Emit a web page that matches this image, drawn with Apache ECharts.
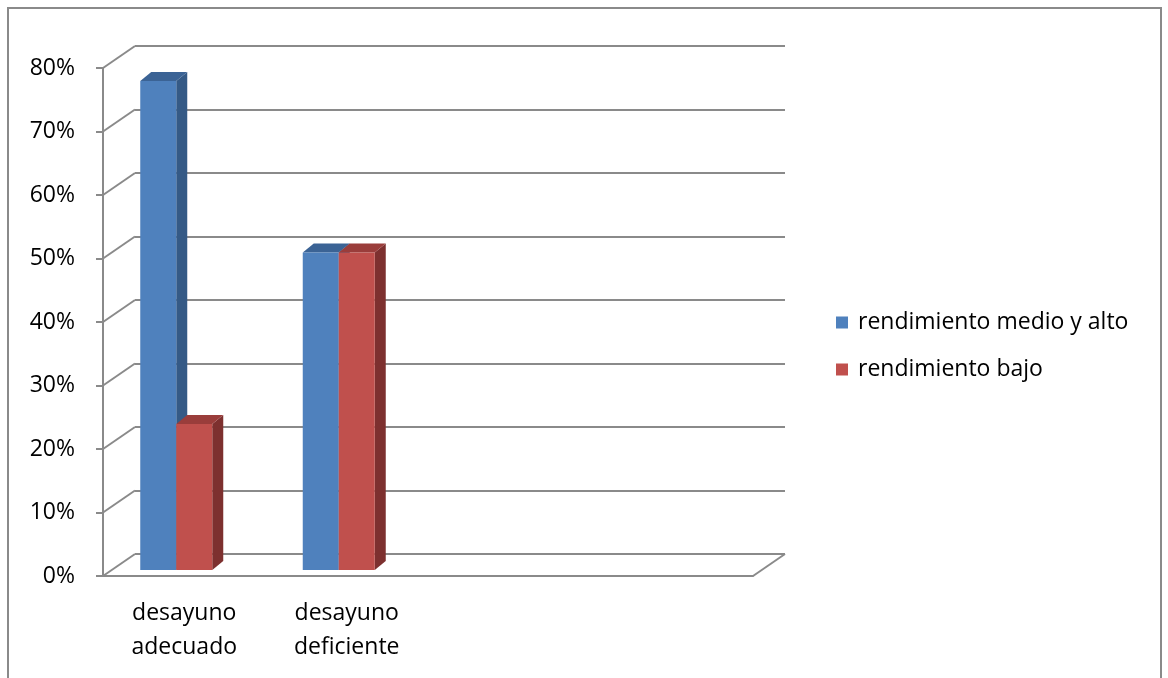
<!DOCTYPE html>
<html>
<head>
<meta charset="utf-8">
<title>desayuno / rendimiento</title>
<script src="https://cdn.jsdelivr.net/npm/echarts@6/dist/echarts.min.js"></script>
<style>
  html, body { margin: 0; padding: 0; background: #fff; }
  #chart { width: 1168px; height: 678px; }
</style>
</head>
<body>
<div id="chart"></div>
<script>
// data
const categories = ['desayuno\nadecuado', 'desayuno\ndeficiente', '', '']
const medioAlto = [0.77, 0.50]
const bajo = [0.23, 0.50]
const yTicks = [0, 0.1, 0.2, 0.3, 0.4, 0.5, 0.6, 0.7, 0.8]

const gray = '#8a8a8a'
const depth = [32, -22]     // back wall offset
const barDepth = [11, -9]   // depth of each bar
const barShift = [-8, -6]   // where the bar pair sits inside the box
const barW = 36

function barRender(slot, faces) {
  return function (params, api) {
    const cat = api.value(0)
    const top = api.coord([cat, api.value(1)])
    const base = api.coord([cat, 0])
    const x0 = top[0] + barShift[0] + (slot - 1) * barW
    const x1 = x0 + barW
    const yt = top[1] + barShift[1]
    const yb = base[1] + barShift[1]
    const dx = barDepth[0], dy = barDepth[1]
    return {
      type: 'group',
      children: [
        { type: 'polygon', shape: { points: [[x1, yt], [x1 + dx, yt + dy], [x1 + dx, yb + dy], [x1, yb]] }, style: { fill: faces[2] } },
        { type: 'polygon', shape: { points: [[x0, yt], [x1, yt], [x1 + dx, yt + dy], [x0 + dx, yt + dy]] }, style: { fill: faces[1] } },
        { type: 'rect', shape: { x: x0, y: yt, width: barW, height: yb - yt }, style: { fill: faces[0] } }
      ]
    }
  }
}

function wallRender(params, api) {
  const v = api.value(0)
  const p = api.coord([0, v])
  const band = api.size([1, 0])[0]
  const left = p[0] - band / 2
  const kids = [{
    type: 'line',
    shape: { x1: left, y1: p[1], x2: left + depth[0], y2: p[1] + depth[1] },
    style: { stroke: gray, lineWidth: 2 }
  }]
  if (v === 0) {
    const right = api.coord([categories.length - 1, 0])[0] + band / 2
    kids.push({
      type: 'line',
      shape: { x1: right, y1: p[1], x2: right + depth[0], y2: p[1] + depth[1] },
      style: { stroke: gray, lineWidth: 2 }
    })
  }
  return { type: 'group', children: kids }
}

const chart = echarts.init(document.getElementById('chart'))
chart.setOption({
  animation: false,
  textStyle: { fontFamily: '"Open Sans", Lato, sans-serif' },
  graphic: [{
    type: 'rect',
    shape: { x: 8, y: 8, width: 1153, height: 700 },
    style: { fill: 'none', stroke: gray, lineWidth: 2 },
    silent: true
  }],
  legend: {
    orient: 'vertical',
    left: 831,
    top: 306,
    icon: 'rect',
    itemWidth: 12,
    itemHeight: 12,
    itemGap: 24,
    textStyle: { color: '#000', fontSize: 23, padding: [0, 0, 0, 5] },
    data: ['rendimiento medio y alto', 'rendimiento bajo']
  },
  grid: [
    { left: 103, top: 68, width: 650, height: 508, containLabel: false },
    { left: 103 + depth[0], top: 68 + depth[1], width: 650, height: 508, containLabel: false }
  ],
  xAxis: [{
    type: 'category',
    gridIndex: 0,
    data: categories,
    axisLine: { lineStyle: { color: gray, width: 2 } },
    axisTick: { length: 7, lineStyle: { color: gray, width: 2 } },
    axisLabel: { color: '#000', fontSize: 23, lineHeight: 34, margin: 20, interval: 0 },
    splitLine: { show: false }
  }, {
    type: 'category',
    gridIndex: 1,
    data: categories,
    show: false
  }],
  yAxis: [{
    type: 'value',
    gridIndex: 0,
    min: 0,
    max: 0.8,
    interval: 0.1,
    axisLine: { show: true, lineStyle: { color: gray, width: 2 } },
    axisTick: { show: true, length: 7, lineStyle: { color: gray, width: 2 } },
    axisLabel: { color: '#000', fontSize: 23, margin: 28, formatter: v => Math.round(v * 100) + '%' },
    splitLine: { show: false }
  }, {
    type: 'value',
    gridIndex: 1,
    min: 0,
    max: 0.8,
    interval: 0.1,
    axisLine: { show: false },
    axisTick: { show: false },
    axisLabel: { show: false },
    splitLine: { show: true, lineStyle: { color: gray, width: 2 } }
  }],
  series: [{
    name: 'walls',
    type: 'custom',
    xAxisIndex: 0,
    yAxisIndex: 0,
    z: 1,
    silent: true,
    renderItem: wallRender,
    encode: { x: -1, y: 0 },
    data: yTicks.map(v => [v])
  }, {
    name: 'rendimiento medio y alto',
    type: 'custom',
    xAxisIndex: 0,
    yAxisIndex: 0,
    z: 3,
    itemStyle: { color: '#4F81BD' },
    renderItem: barRender(0, ['#4F81BD', '#3B6395', '#355A86']),
    encode: { x: 0, y: 1 },
    data: medioAlto.map((v, i) => [i, v])
  }, {
    name: 'rendimiento bajo',
    type: 'custom',
    xAxisIndex: 0,
    yAxisIndex: 0,
    z: 4,
    itemStyle: { color: '#C0504D' },
    renderItem: barRender(1, ['#C0504D', '#9A3D3B', '#7D302F']),
    encode: { x: 0, y: 1 },
    data: bajo.map((v, i) => [i, v])
  }]
})
</script>
</body>
</html>
